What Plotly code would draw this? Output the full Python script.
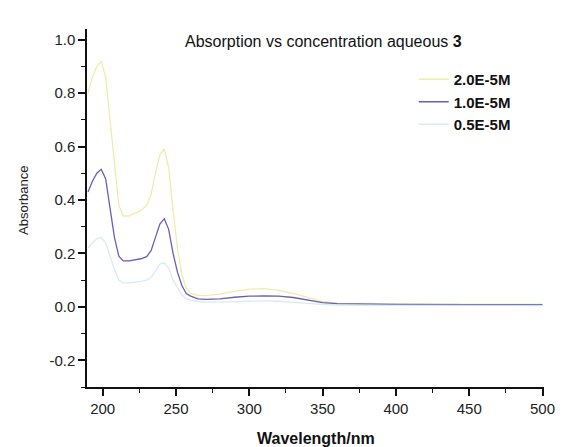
import plotly.graph_objects as go

wavelength = [190, 193, 196, 199, 202, 205, 208, 211, 214, 218, 222, 226, 230, 233, 236, 239, 242, 245,
              248, 251, 254, 257, 260, 265, 270, 280, 290, 300, 310, 320, 330, 340, 350, 360, 380, 400, 450, 500]

abs_2p0 = [0.80, 0.86, 0.90, 0.92, 0.86, 0.70, 0.52, 0.38, 0.34, 0.34, 0.35, 0.36, 0.38, 0.42, 0.50, 0.57, 0.59, 0.52,
           0.36, 0.22, 0.12, 0.07, 0.05, 0.042, 0.042, 0.048, 0.058, 0.066, 0.068, 0.062, 0.05, 0.034, 0.02, 0.014,
           0.012, 0.011, 0.010, 0.010]

abs_1p0 = [0.43, 0.47, 0.50, 0.515, 0.48, 0.36, 0.26, 0.19, 0.172, 0.172, 0.176, 0.180, 0.188, 0.21, 0.26, 0.31, 0.33, 0.29,
           0.20, 0.13, 0.08, 0.05, 0.04, 0.03, 0.028, 0.03, 0.036, 0.04, 0.041, 0.04, 0.035, 0.025, 0.016, 0.012,
           0.010, 0.009, 0.008, 0.008]

abs_0p5 = [0.22, 0.24, 0.255, 0.26, 0.24, 0.19, 0.14, 0.10, 0.09, 0.09, 0.092, 0.095, 0.10, 0.11, 0.135, 0.16, 0.165, 0.145,
           0.10, 0.07, 0.045, 0.03, 0.025, 0.02, 0.018, 0.018, 0.02, 0.022, 0.022, 0.021, 0.018, 0.013, 0.009, 0.007,
           0.006, 0.006, 0.005, 0.005]

series_names = ["2.0E-5M", "1.0E-5M", "0.5E-5M"]
series_colors = ["rgba(228,224,120,0.6)", "#6a5fb2", "rgba(200,225,242,0.7)"]

x_ticks = [200, 250, 300, 350, 400, 450, 500]
y_ticks = [-0.2, 0.0, 0.2, 0.4, 0.6, 0.8, 1.0]
y_ticktext = ["-0.2", "0.0", "0.2", "0.4", "0.6", "0.8", "1.0"]

fig = go.Figure()
for name, ys, col in zip(series_names, [abs_2p0, abs_1p0, abs_0p5], series_colors):
    fig.add_trace(go.Scatter(x=wavelength, y=ys, mode="lines", name="<b>" + name + "</b>",
                             line=dict(color=col, width=1.3)))

axis_common = dict(showline=True, linecolor="#111", linewidth=1.5, ticks="outside", ticklen=7,
                   tickwidth=1.5, tickcolor="#111", showgrid=False, zeroline=False,
                   tickfont=dict(family="Liberation Sans, Arial", size=15, color="#222"))

fig.update_layout(
    width=567, height=447,
    margin=dict(l=87, r=15, t=29, b=60),
    paper_bgcolor="white", plot_bgcolor="white",
    font=dict(family="Liberation Sans, Arial", color="#111"),
    legend=dict(x=0.715, xanchor="left", y=0.905, yanchor="top", bgcolor="rgba(0,0,0,0)",
                font=dict(size=15, family="Liberation Sans, Arial", color="#111"),
                tracegroupgap=0),
    xaxis=dict(range=[189.3, 501], tickvals=x_ticks,
               minor=dict(ticks="outside", dtick=25, ticklen=4, tickcolor="#111", tickwidth=1.2),
               **axis_common),
    yaxis=dict(range=[-0.3, 1.04], tickvals=y_ticks, ticktext=y_ticktext,
               minor=dict(ticks="outside", dtick=0.1, ticklen=4, tickcolor="#111", tickwidth=1.2),
               **axis_common),
    annotations=[
        dict(text="Absorption vs concentration aqueous <b>3</b>", xref="paper", yref="paper",
             x=0.211, y=0.966, xanchor="left", yanchor="middle", showarrow=False,
             font=dict(size=16, color="#111")),
        dict(text="Absorbance", xref="paper", yref="paper", x=-0.1376, y=0.52, textangle=-90,
             xanchor="center", yanchor="middle", showarrow=False, font=dict(size=13, color="#222")),
        dict(text="<b>Wavelength/nm</b>", xref="paper", yref="paper", x=0.501, y=-0.1425,
             xanchor="center", yanchor="middle", showarrow=False, font=dict(size=16, color="#111")),
    ],
)

fig.write_html("out.html")
